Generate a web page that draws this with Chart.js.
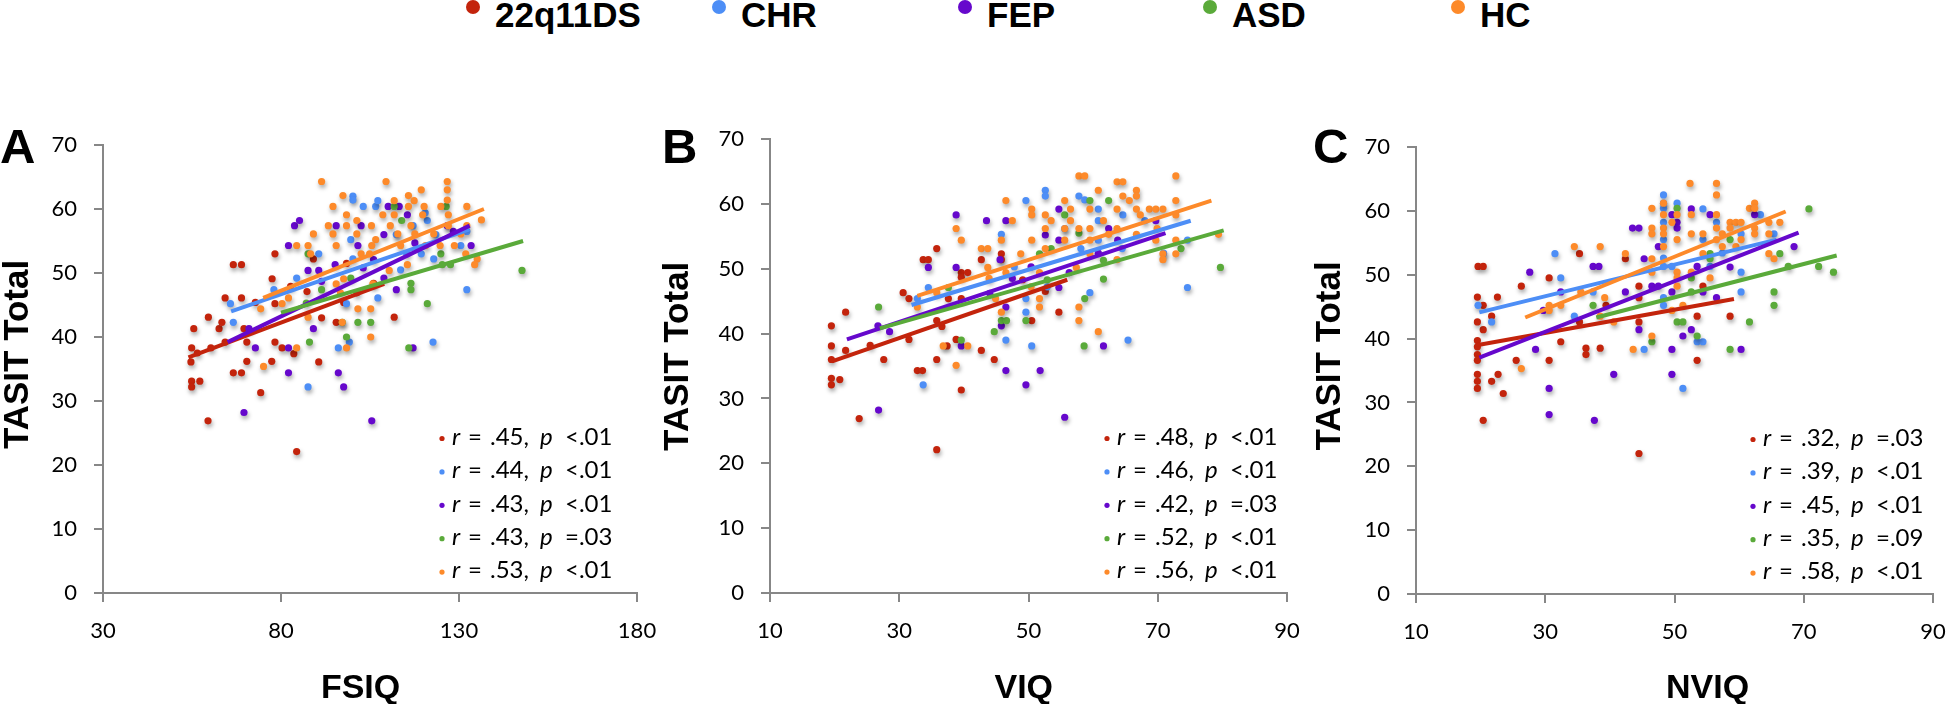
<!DOCTYPE html>
<html>
<head>
<meta charset="utf-8">
<script src="https://cdn.jsdelivr.net/npm/chart.js@4.4.0/dist/chart.umd.min.js"></script>
<style>
  html, body { margin: 0; padding: 0; background: #fff; }
  body { width: 1946px; height: 704px; position: relative; overflow: hidden; }
  canvas { position: absolute; left: 0; top: 0; }
  .key { position: absolute; top: -3px; font: bold 35px/35px "Liberation Sans", Arial, sans-serif; color: #000; white-space: nowrap; }
  .key i { position: absolute; top: 3px; left: -29px; width: 14px; height: 14px; border-radius: 50%; }
</style>
</head>
<body>
<div id="legend"></div>
<canvas id="chartA" width="1946" height="704"></canvas>
<canvas id="chartB" width="1946" height="704"></canvas>
<canvas id="chartC" width="1946" height="704"></canvas>
<script>
// groups and colours
const groups = ['22q11DS', 'CHR', 'FEP', 'ASD', 'HC'];
const colors = ['#C3240C', '#4D8EF6', '#6608CC', '#5AAA3A', '#FD8A2A'];

// panel A: FSIQ vs TASIT total
const fsiq22q = [[55.5,41.3],[54.9,38.3],[54.7,36.1],[54.9,33.1],[54.9,32.2],[57.2,33.1],[56.5,37.5],[59.6,43.1],[60.3,38.3],[62.6,41.3],[63.4,42.3],[64.3,46.1],[64.3,39.2],[66.6,51.3],[68.9,51.3],[68.9,46.1],[66.6,34.4],[68.9,34.4],[70.4,36.2],[70.4,39.2],[69.6,41.3],[72.8,45.4],[74.3,31.3],[77.5,49.1],[78.3,53],[78.3,45.2],[78.3,39.2],[77.4,36.2],[80.3,38.3],[83.6,37.4],[89.1,52.2],[91.4,43],[90.6,36.1],[95.5,42.3],[97.6,45.4],[98.4,51.5],[111.8,43.1],[59.5,26.9],[84.4,22.1],[82.7,47.9],[87.3,47.1],[101.3,46.9],[106,48.4]];
const fsiqChr = [[65.8,45.2],[66.6,42.3],[78,47.4],[84.4,49.2],[90.6,53],[87.6,32.2],[96.1,38.3],[99.2,39.2],[98.4,45.2],[100.2,62],[100.2,61.4],[103.1,60.4],[106.6,60.4],[107.2,61.3],[99.6,55.2],[100.2,52.2],[107.2,46.1],[113.6,50.5],[112.4,56],[117.1,57.4],[121.1,58.2],[119.4,53],[122.9,52.2],[122.7,39.2],[123.5,56],[130.5,54.3],[132.2,47.4],[132.2,56.5],[115.3,53],[120.5,59.4]];
const fsiqFep = [[83.8,57.4],[85.2,58.2],[82.1,54.3],[87.6,50.4],[90.6,50.4],[91.4,48.7],[95.2,51.3],[95.5,57.4],[102.5,57.4],[101.6,54.3],[103.1,50.8],[108.9,56],[110.1,60.4],[113.2,60.4],[115.5,59.1],[108.9,49.2],[112.4,47.4],[117.1,38.3],[126.7,57.4],[133.4,54.3],[128.4,56.5],[71,41.3],[72.8,38.3],[82.1,38.3],[89.1,41.3],[82.1,34.4],[96.1,34.4],[97.6,32.2],[69.6,28.2],[105.5,26.9],[117.6,54.7],[106,52.1]];
const fsiqAsd = [[87.6,53],[91.4,47.4],[88,39.2],[98.4,40],[101.6,42.3],[97.2,42.3],[99.6,49.2],[105.2,42.3],[111.8,60.4],[113.9,58.2],[116.5,48.4],[116.5,47.4],[115.9,38.3],[121.1,45.2],[124.9,53],[126.4,60.4],[125.3,51.3],[127.6,51.3],[147.7,50.4],[87.1,45.3]];
const fsiqHc = [[91.4,64.3],[109.5,64.3],[126.7,64.3],[126.7,63],[119.4,63],[97.4,62.1],[94.6,60.4],[111.8,61.3],[115.8,62.1],[117.4,61.3],[120.2,60.4],[124.9,60.4],[126.7,61.4],[132.2,60.4],[108.6,59.1],[111.8,59.1],[115.8,60.4],[119.8,59.1],[127,59.1],[98.4,59.1],[101.3,58.2],[93.3,57.4],[98.4,57.4],[105.4,57.4],[110.7,57.4],[116.5,57.4],[136.3,58.3],[127,57.4],[132.2,57.4],[89.1,56.1],[94.6,56.1],[101.3,56.1],[106.6,55.2],[112.8,56.1],[117.6,56.1],[122.9,56.1],[130.5,56.1],[84.4,54.3],[95.5,54.3],[105.5,54.3],[113.6,54.3],[120.6,54.3],[124.7,54.3],[128.7,54.3],[87.6,54.3],[88.3,53],[102.5,53],[104.9,53],[131.9,53],[135.1,52.2],[134.4,51.3],[115.5,51.3],[110.4,50.4],[97.6,49.1],[95.5,48.3],[105.8,48.3],[82.1,46.1],[80.3,45.2],[74.3,44.4],[87.6,43.1],[101.6,44.4],[105.2,44.4],[97.2,42.3],[105.2,40],[98.4,38.3],[84.4,38.3],[75.1,35.4],[96.7,46.9]];
const fsiqFits = [[[54,36.8],[109,48.3]], [[66,44],[133,56.8]], [[65,39.2],[133,57.4]], [[80,43.8],[148,55]], [[75,46.1],[137,60]]];
const fsiqR = ['.45', '.44', '.43', '.43', '.53'];
const fsiqP = ['<.01', '<.01', '<.01', '=.03', '<.01'];

// panel B: VIQ vs TASIT total
const viq22q = [[19.5,41.2],[19.5,38.1],[19.5,36],[19.5,33.1],[19.5,32.1],[20.8,32.9],[21.7,43.3],[21.7,37.4],[23.8,26.9],[25.5,38.2],[27.6,36],[30.6,46.3],[31.5,45.4],[31.5,39.1],[32.8,34.3],[33.6,34.3],[33.7,51.4],[34.5,51.4],[35.8,53.1],[35.8,36],[35.8,42],[36.6,41.1],[37.4,38.1],[37.6,45.4],[38.8,39.1],[39.6,49.4],[39.6,48.7],[40.6,49.4],[39.6,45.4],[39.6,31.3],[42.7,37.4],[42.7,51.4],[44.7,36],[45.8,52.3],[45.8,51.4],[50.5,42],[54.7,43.3],[35.8,22.1],[52.6,46.5],[49.1,48.3]];
const viqChr = [[33.7,32.1],[32.8,45.4],[34.5,47.1],[45.8,55.3],[49.6,60.5],[52.6,62.1],[52.6,61.2],[46.5,39],[50.5,38.1],[49.6,45.4],[49.6,43.3],[57.8,61.2],[58.7,60.6],[55.6,56.2],[58.1,53.1],[59.5,46.3],[60.8,59.2],[60.8,57.4],[60.8,54.4],[64.6,58.3],[65.4,39],[68,57.4],[70.9,52.4],[74.6,54.4],[74.6,47.1],[64.5,53.1],[47.8,50.3],[52.9,47.2]];
const viqFep = [[38.8,58.3],[43.5,57.4],[46.5,57.4],[34.5,50.2],[38.8,50.2],[26.7,41.2],[28.5,40.3],[39.6,38.1],[45.6,51.4],[47.5,48.5],[46.5,44.1],[45.8,41.2],[46.5,34.3],[51.8,34.3],[49.6,32.1],[26.8,28.2],[55.6,27.1],[52.6,55.2],[54.7,59.2],[54.7,54.4],[54.7,47.1],[56.3,49.4],[62.4,56.2],[60.8,52.4],[63.8,54.4],[69.7,57.4],[61.6,38.1],[44,46.2],[50.4,50.3]];
const viqAsd = [[26.8,44.1],[37.6,47.1],[39.6,39],[44.7,40.3],[45.8,42],[46.6,42],[49.6,42],[51.7,52.3],[53.5,53.1],[55.6,58.3],[59.5,60.5],[62.4,60.5],[57.8,55.5],[58.7,45.4],[58.6,38.1],[61.6,48.4],[61.6,51.3],[73.6,53.1],[79.7,50.2],[52.9,48.3]];
const viqHc = [[57.8,64.3],[58.7,64.3],[63.7,63.4],[64.6,63.4],[72.8,64.3],[60.8,62.1],[66.7,62.1],[66.7,61.2],[64.6,61.2],[65.6,60.5],[46.5,60.5],[55.6,60.5],[72.8,60.5],[50.5,59.2],[52.6,58.3],[56.5,59.2],[59.5,59.2],[63.7,59.2],[66.7,59.2],[68.7,59.2],[69.7,59.2],[70.8,59.2],[50.5,58.3],[53.5,57.4],[47.5,57.4],[56.5,57.4],[61.6,57.4],[67.3,58.3],[72.8,58.3],[38.8,56.2],[52.6,56.2],[55.6,56.2],[57.8,56.2],[59.5,56.2],[63.7,56.2],[69.9,56.2],[39.6,54.4],[45.8,54.4],[50.5,54.4],[55.6,54.4],[59.5,54.4],[62.4,55.3],[66.7,55.3],[69.7,54.4],[72.8,54.4],[79.4,55.3],[42.7,53.1],[43.7,53.1],[48.8,52.3],[52.6,53.1],[59.5,52.3],[70.8,52.3],[72.8,52.3],[70.8,51.4],[63.7,51.4],[43.7,50.2],[46.5,49.4],[51.7,49.4],[43.9,48.5],[57.4,50.2],[35.8,46.3],[32.8,44.1],[51.7,45.4],[51.7,44.1],[44.9,45.4],[45.8,43.3],[57.8,44.1],[57.8,42],[60.8,40.3],[36.8,38.1],[40.6,38.1],[38.8,35.1],[50.4,47.2]];
const viqFits = [[[19.6,35.7],[56,48.3]], [[31.9,44.4],[75.1,57.4]], [[21.9,39.1],[71.2,55.5]], [[27,40.8],[80.2,55.9]], [[32.8,45.8],[78.3,60.5]]];
const viqR = ['.48', '.46', '.42', '.52', '.56'];
const viqP = ['<.01', '<.01', '=.03', '<.01', '<.01'];

// panel C: NVIQ vs TASIT total
const nviq22q = [[19.6,51.3],[20.4,51.3],[19.5,46.5],[20.4,45.2],[20.4,41.4],[19.5,42.6],[19.5,39.7],[19.5,38.7],[19.5,37.5],[19.5,36.6],[19.5,34.4],[19.5,33.3],[19.5,32.2],[21.7,33.3],[22.7,34.4],[21.7,43.5],[22.6,46.5],[23.5,31.4],[25.5,36.6],[26.3,48.2],[30.6,49.5],[30.6,36.6],[32.4,39.5],[35.3,53.3],[35.3,42.6],[36.3,38.5],[36.3,37.5],[38.5,38.5],[39.4,45.2],[42.4,52.5],[44.5,48.2],[44.5,46.4],[44.5,42.6],[53.5,43.5],[53.5,36.6],[54.4,48.2],[58.6,43.5],[20.4,27.2],[44.5,22]];
const nviqChr = [[19.6,45.2],[21.7,42.6],[31.5,53.3],[32.4,49.5],[34.5,43.5],[37.4,47.3],[45.3,38.3],[48.3,62.5],[48.3,61.2],[48.3,60.4],[48.3,58.2],[48.3,55.5],[48.3,52.6],[48.3,51.3],[48.3,46.4],[48.3,45.2],[50.4,61.2],[51.3,32.2],[49.6,51.3],[54.4,60.3],[54.4,55.5],[53.5,39.5],[54.4,39.5],[56.5,58.2],[57.4,53.4],[60.3,56.4],[60.3,50.4],[60.3,47.3],[63.3,59.4],[65.4,56.4],[55.5,51.3]];
const nviqFep = [[27.6,50.4],[29.7,44.4],[28.5,38.3],[30.6,32.2],[30.6,28.1],[37.4,51.3],[38.3,51.3],[32.4,47.3],[40.6,34.4],[37.6,27.2],[43.5,57.3],[44.5,57.3],[45.3,52.5],[42.4,47.3],[44.5,41.4],[46.5,48.2],[47.5,48.2],[47.5,54.4],[49.6,59.4],[50.4,58.2],[50.4,57.3],[49.6,47.3],[51.3,40.4],[52.6,41.4],[49.6,38.3],[49.6,34.4],[52.6,60.3],[53.5,51.3],[54.4,47.3],[55.5,59.4],[56.5,46.4],[58.6,51.2],[60.3,38.3],[62.4,59.4],[68.5,54.4]];
const nviqAsd = [[37.4,45.2],[46.5,39.5],[50.4,60.4],[50.4,42.6],[51.3,42.6],[52.6,49.5],[52.6,47.3],[53.5,40.4],[55.5,53.3],[55.5,52.5],[58.6,55.5],[58.6,38.3],[61.6,42.6],[65.4,47.3],[65.4,45.2],[66.3,53.3],[67.6,51.3],[70.8,60.3],[72.3,51.3],[74.6,50.4]];
const nviqHc = [[52.4,64.3],[56.5,64.3],[56.5,62.5],[46.5,60.4],[48.3,61.2],[48.3,59.4],[50.4,59.4],[52.6,59.4],[56.5,59.4],[61.6,60.4],[62.4,61.2],[62.4,60.4],[46.5,57.3],[46.5,56.4],[48.3,57.3],[48.3,56.4],[49.6,58.2],[52.6,56.4],[50.4,55.5],[54.4,56.4],[56.5,57.3],[57.4,56.4],[58.6,58.2],[59.5,58.2],[60.3,58.2],[62.4,57.3],[62.4,56.4],[64.6,58.2],[66.3,58.2],[64.6,56.4],[48.3,54.4],[58.6,57.3],[56.5,55.5],[54.4,53.3],[57.4,54.4],[59.5,54.4],[42.4,53.3],[46.5,52.5],[46.5,50.4],[50.4,50.4],[52.6,50.4],[50.4,49.5],[50.4,48.2],[34.5,54.4],[38.5,54.4],[35.5,47.3],[32.4,45.2],[30.6,45.2],[30.6,44.4],[39.2,46.4],[38.5,43.5],[40.6,42.6],[51.3,45.2],[49.6,44.4],[46.5,40.4],[43.6,38.3],[26.3,35.3],[64.6,53.3],[65.4,52.5],[55.5,49.5],[60.3,55.5]];
const nviqFits = [[[19.6,39],[59.2,46.2]], [[19.8,44.1],[65.8,55.5]], [[19.8,37],[69.2,56.6]], [[37.9,43.3],[75.1,53]], [[26.9,43.3],[67.2,59.9]]];
const nviqR = ['.32', '.39', '.45', '.35', '.58'];
const nviqP = ['=.03', '<.01', '<.01', '=.09', '<.01'];

const keyX = [495, 741, 987, 1232, 1480];

// top legend
const legend = document.getElementById('legend');
groups.forEach((g, i) => {
  const d = document.createElement('div');
  d.className = 'key';
  d.style.left = keyX[i] + 'px';
  d.innerHTML = '<i style="background:' + colors[i] + '"></i>' + g;
  legend.appendChild(d);
});

// soft drop shadow under the dots, like the original
const dotShadow = {
  id: 'dotShadow',
  beforeDatasetDraw(chart, args) {
    if (args.meta.type !== 'scatter') return;
    const ctx = chart.ctx;
    ctx.save();
    ctx.shadowColor = 'rgba(0,0,0,0.35)';
    ctx.shadowBlur = 4;
    ctx.shadowOffsetX = 1;
    ctx.shadowOffsetY = 3;
  },
  afterDatasetDraw(chart, args) {
    if (args.meta.type !== 'scatter') return;
    chart.ctx.restore();
  }
};

// panel letter and the r / p lines
const panelNotes = {
  id: 'panelNotes',
  afterDraw(chart, args, o) {
    const ctx = chart.ctx;
    ctx.save();
    ctx.fillStyle = '#000';
    ctx.textBaseline = 'alphabetic';
    ctx.font = 'bold 49px "Liberation Sans", Arial, sans-serif';
    ctx.fillText(o.letter, o.letterX, 163);
    ctx.textBaseline = 'middle';
    o.r.forEach((r, i) => {
      const y = o.rowY + i * 33.4;
      const x = o.textX;
      ctx.fillStyle = colors[i];
      ctx.beginPath();
      ctx.arc(x - 10, y + 1.5, 2.6, 0, Math.PI * 2);
      ctx.fill();
      ctx.fillStyle = '#000';
      ctx.font = 'italic 24px Lato';
      ctx.fillText('r', x, y);
      ctx.font = '24px Lato';
      ctx.fillText('=', x + 16, y);
      ctx.fillText(r + ',', x + 38, y);
      ctx.font = 'italic 24px Lato';
      ctx.fillText('p', x + 88, y);
      ctx.font = '24px Lato';
      ctx.fillText(o.p[i], x + 113, y);
    });
    ctx.restore();
  }
};

const axisGrey = '#878787';
const titleFont = '"Liberation Sans", Arial, sans-serif';

function panel(id, o) {
  const datasets = [];
  o.fits.forEach((f, i) => datasets.push({
    type: 'line', data: f.map(([x, y]) => ({x, y})),
    borderColor: colors[i], borderWidth: 4, pointRadius: 0, fill: false, order: 5 - i
  }));
  o.points.forEach((p, i) => datasets.push({
    type: 'scatter', data: p.map(([x, y]) => ({x, y})),
    backgroundColor: colors[i], borderWidth: 0, pointRadius: 3.6, order: 20 - i
  }));
  return new Chart(document.getElementById(id), {
    type: 'scatter',
    data: { datasets: datasets },
    plugins: [dotShadow, panelNotes],
    options: {
      responsive: false,
      animation: false,
      devicePixelRatio: 1,
      layout: { autoPadding: false, padding: o.pad },
      plugins: {
        legend: { display: false },
        tooltip: { enabled: false },
        panelNotes: { letter: o.letter, letterX: o.letterX, textX: o.textX, rowY: o.rowY, r: o.r, p: o.p }
      },
      scales: {
        x: {
          type: 'linear', position: 'bottom', min: o.xMin, max: o.xMax,
          ticks: { stepSize: o.xStep, color: '#000', font: { family: 'Lato', size: 22, lineHeight: 2.6 }, padding: 0, maxRotation: 0 },
          grid: { drawOnChartArea: false, drawTicks: true, tickLength: 9, color: axisGrey, lineWidth: 2 },
          border: { display: true, color: axisGrey, width: 2 },
          title: { display: true, text: o.xTitle, color: '#000', font: { family: titleFont, size: 34, weight: 'bold', lineHeight: 0.9 }, padding: 0 },
          afterFit: s => { s.height = o.xH; }
        },
        y: {
          min: 0, max: 70,
          ticks: { stepSize: 10, color: '#000', font: { family: 'Lato', size: 22 }, padding: 17 },
          grid: { drawOnChartArea: false, drawTicks: true, tickLength: 9, color: axisGrey, lineWidth: 2 },
          border: { display: true, color: axisGrey, width: 2 },
          title: { display: true, text: o.yTitle, color: '#000', font: { family: titleFont, size: 35, weight: 'bold', lineHeight: 1 }, padding: { top: 1, bottom: 0 } },
          afterFit: s => { s.width = o.yW; }
        }
      }
    }
  });
}

panel('chartA', {
  points: [fsiq22q, fsiqChr, fsiqFep, fsiqAsd, fsiqHc], fits: fsiqFits, r: fsiqR, p: fsiqP,
  xMin: 30, xMax: 180, xStep: 50, xTitle: 'FSIQ  ', yTitle: '   TASIT Total',
  pad: { left: 0, top: 145, right: 1309, bottom: 0 }, yW: 103, xH: 111,
  letter: 'A', letterX: 0, textX: 452, rowY: 437
});
panel('chartB', {
  points: [viq22q, viqChr, viqFep, viqAsd, viqHc], fits: viqFits, r: viqR, p: viqP,
  xMin: 10, xMax: 90, xStep: 20, xTitle: 'VIQ ', yTitle: '  TASIT Total',
  pad: { left: 660, top: 139, right: 659, bottom: 0 }, yW: 110, xH: 111,
  letter: 'B', letterX: 662, textX: 1117, rowY: 437
});
panel('chartC', {
  points: [nviq22q, nviqChr, nviqFep, nviqAsd, nviqHc], fits: nviqFits, r: nviqR, p: nviqP,
  xMin: 10, xMax: 90, xStep: 20, xTitle: '       NVIQ', yTitle: '   TASIT Total',
  pad: { left: 1312, top: 147, right: 13, bottom: 0 }, yW: 104, xH: 110,
  letter: 'C', letterX: 1313, textX: 1763, rowY: 438
});
</script>
</body>
</html>
